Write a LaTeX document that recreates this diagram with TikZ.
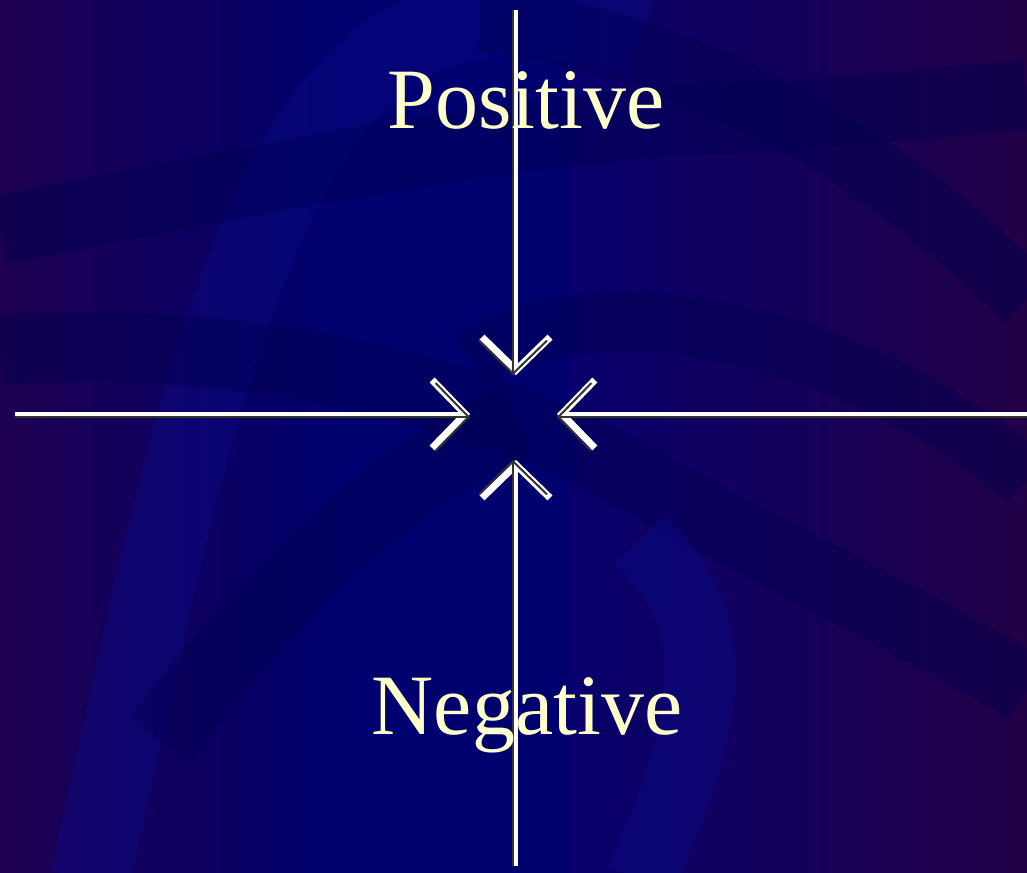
\documentclass[tikz,border=0pt]{standalone}
\usepackage{fontspec}
\setmainfont{Liberation Serif}
\usetikzlibrary{arrows.meta}
\definecolor{cream}{HTML}{FFFFCC}
\definecolor{navy}{HTML}{000050}
\definecolor{band}{HTML}{0A0A88}
\definecolor{bgl}{RGB}{30,0,80}
\definecolor{bgc}{RGB}{0,0,110}
\definecolor{bgm}{RGB}{8,0,108}
\definecolor{bgr}{RGB}{34,0,70}
\begin{document}
\begin{tikzpicture}[x=1pt,y=-1pt,
  axis/.style={white,line width=4pt},
  axiscore/.style={black!80,line width=2.5pt},
  tipw/.style={-{Straight Barb[length=33pt,width=68pt,line width=7pt]}},
  tipd/.style={-{Straight Barb[length=33pt,width=68pt,line width=2pt]}},
  swoosh/.style={line width=#1,line cap=butt},
  lbl/.style={text=cream,font=\fontsize{86}{90}\selectfont,inner sep=0pt}]
% background stripes
\fill[left color=bgl,right color=bgc] (-5,-5) rectangle (345,877);
\fill[bgc] (344,-5) rectangle (571,877);
\fill[left color=bgm,right color=bgr] (570,-5) rectangle (1032,877);
% swooshes
\begin{scope}[opacity=0.4]
\draw[band,swoosh=80pt] (90,880) .. controls (170,520) and (230,180) .. (380,60) .. controls (460,0) and (560,10) .. (640,40);
\draw[navy,swoosh=70pt] (0,230) .. controls (250,180) and (550,120) .. (760,118) -- (1027,95);
\draw[navy,swoosh=70pt] (0,350) .. controls (250,330) and (500,400) .. (620,470) .. controls (800,570) and (950,640) .. (1027,690);
\draw[navy,swoosh=60pt] (470,360) .. controls (600,280) and (850,330) .. (1027,480);
\draw[navy,swoosh=65pt] (480,20) .. controls (700,40) and (900,170) .. (1027,300);
\draw[navy,swoosh=75pt] (160,740) .. controls (280,580) and (400,470) .. (520,420);
\draw[band,swoosh=70pt] (640,880) .. controls (720,700) and (720,620) .. (640,540);
\end{scope}
% coordinates
\coordinate (topend) at (516,10);
\coordinate (toptip) at (516,375);
\coordinate (botend) at (516,866);
\coordinate (bottip) at (516,460);
\coordinate (leftend) at (15,414);
\coordinate (lefttip) at (470,414);
\coordinate (rightend) at (1027,414);
\coordinate (righttip) at (557,414);
% arrows (white body, dark core)
\draw[axis,tipw] (topend) -- (toptip);
\draw[axis,tipw] (botend) -- (bottip);
\draw[axis,tipw] (leftend) -- (lefttip);
\draw[axis,tipw] (rightend) -- (righttip);
\draw[axiscore,tipd] ([xshift=-3pt]topend) -- ([xshift=-3pt]toptip);
\draw[axiscore,tipd] ([xshift=-3pt]botend) -- ([xshift=-3pt]bottip);
\draw[axiscore,tipd] ([yshift=-3pt]leftend) -- ([yshift=-3pt]lefttip);
\draw[axiscore,tipd] ([yshift=-3pt]rightend) -- ([yshift=-3pt]righttip);
% labels
\node[lbl] (pos) at (526,100) {Positive};
\node[lbl] (neg) at (527,715) {Negative};
\pgfresetboundingbox
\useasboundingbox (0,0) rectangle (1027,872);
\end{tikzpicture}
\end{document}
